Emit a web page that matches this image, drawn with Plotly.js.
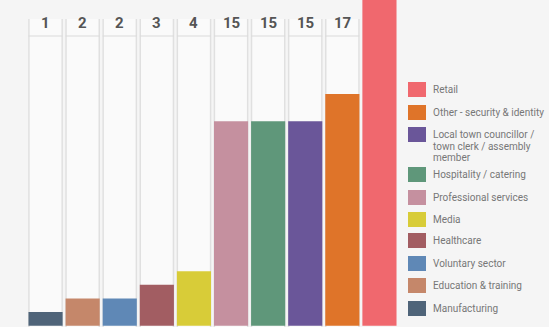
<!DOCTYPE html>
<html>
<head>
<meta charset="utf-8">
<script src="https://cdn.plot.ly/plotly-3.0.1.min.js"></script>
<style>html,body{margin:0;padding:0;background:#f5f5f5;}#chart{width:549px;height:327px;}</style>
</head>
<body>
<div id="chart"></div>
<script>
// Data (bars left to right)
const categories = ["Manufacturing","Education & training","Voluntary sector","Healthcare","Media","Professional services","Hospitality / catering","Local town councillor / town clerk / assembly member","Other - security & identity","Retail"];
const values = [1, 2, 2, 3, 4, 15, 15, 15, 17, 26];
const colors = ["#4f6479","#c5876a","#5f88b6","#a25d62","#d8cc38","#c5909f","#5f977a","#6a5699","#df7429","#f0686e"];
// Legend (top to bottom); each entry is a list of text lines
const legendLabels = [["Retail"],["Other - security & identity"],["Local town councillor /","town clerk / assembly","member"],["Hospitality / catering"],["Professional services"],["Media"],["Healthcare"],["Voluntary sector"],["Education & training"],["Manufacturing"]];
const legendColors = ["#f0686e","#df7429","#6a5699","#5f977a","#c5909f","#d8cc38","#a25d62","#5f88b6","#c5876a","#4f6479"];
const legendTops = [82, 105, 127, 167, 190, 212, 233, 256, 278, 301];

const W = 549, H = 327, L = 27, R = 151;
const pw = W - L - R, ph = H;
const yMax = 23.9, yMin = -0.1;
const px2x = p => (p - L) / pw;
const py2y = p => 1 - p / ph;
const pyToVal = p => yMax - p / ph * (yMax - yMin);

const bargap = 0.08;
const half = (1 - bargap) / 2;
const shapes = [];
const annotations = [];
const panelTop = pyToVal(19);
const lineY = pyToVal(36);
const labelY = pyToVal(22.5);

values.forEach((v, i) => {
  if (v < yMax) {
    shapes.push({type:'rect', layer:'below', xref:'x', yref:'y', x0:i-half, x1:i+half, y0:yMin, y1:panelTop, fillcolor:'#fafafa', line:{width:0}});
    [i-half+0.012, i+half-0.012].forEach(xx => shapes.push({type:'line', layer:'below', xref:'x', yref:'y', x0:xx, x1:xx, y0:yMin, y1:panelTop, line:{color:'#e0e0e0', width:1.5}}));
    shapes.push({type:'line', layer:'below', xref:'x', yref:'y', x0:i-half, x1:i+half, y0:lineY, y1:lineY, line:{color:'#dadada', width:1}});
    annotations.push({xref:'x', yref:'y', x:i, y:labelY, text:String(v), showarrow:false, yanchor:'middle', font:{family:'Roboto', size:15, color:'#555555', weight:700}});
  }
});

legendLabels.forEach((lines, k) => {
  const t = legendTops[k];
  shapes.push({type:'rect', xref:'paper', yref:'paper', x0:px2x(408), x1:px2x(426), y0:py2y(t), y1:py2y(t+15), fillcolor:legendColors[k], line:{width:0}});
  lines.forEach((ln, j) => {
    annotations.push({xref:'paper', yref:'paper', x:px2x(431), y:py2y(t + 7.5 + j * 11.5), xanchor:'left', yanchor:'middle', align:'left', text:ln, showarrow:false, font:{family:'Roboto', size:10, color:'#777777'}});
  });
});

const trace = {type:'bar', x:categories.map((c,i)=>i), y:values, marker:{color:colors, line:{width:0}}, hoverinfo:'skip', showlegend:false};

const layout = {
  width: W, height: H,
  margin:{l:L, r:R, t:0, b:0, pad:0},
  paper_bgcolor:'#f5f5f5', plot_bgcolor:'#f5f5f5',
  bargap: bargap,
  xaxis:{range:[-0.5, categories.length-0.5], showgrid:false, zeroline:false, showticklabels:false, showline:false, fixedrange:true},
  yaxis:{range:[yMin, yMax], showgrid:false, zeroline:false, showticklabels:false, showline:false, fixedrange:true},
  shapes: shapes,
  annotations: annotations,
  showlegend:false
};
Plotly.newPlot('chart', [trace], layout, {displayModeBar:false, staticPlot:true});
</script>
</body>
</html>
